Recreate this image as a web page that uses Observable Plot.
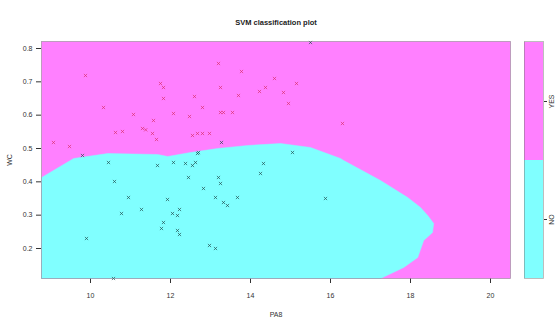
<!DOCTYPE html>
<html>
<head>
<meta charset="utf-8">
<script src="https://cdn.jsdelivr.net/npm/d3@7"></script>
<script src="https://cdn.jsdelivr.net/npm/@observablehq/plot@0.6"></script>
<style>
  html, body { margin: 0; padding: 0; background: #fff; }
  #wrap { position: relative; width: 558px; height: 323px; font-family: "Liberation Sans", Arial, sans-serif; }
  #wrap svg { position: absolute; top: 0; }
</style>
</head>
<body>
<div id="wrap"></div>
<script>
// ---- data ----
const title = "SVM classification plot";
const xLabel = "PA8";
const yLabel = "WC";
const classes = ["NO", "YES"];
const classColors = ["#80FFFF", "#FF80FF"];
const xTicks = [10, 12, 14, 16, 18, 20];
const yTicks = [0.2, 0.3, 0.4, 0.5, 0.6, 0.7, 0.8];

// decision boundary of the "NO" region (closed polygon)
const boundaryX = [8.78, 8.78, 9.58, 10.43, 11.68, 11.93, 12.5, 13.18, 13.93, 14.75, 15.5, 16.25, 16.33, 17.25, 17.93, 18.25, 18.43, 18.58, 18.55, 18.33, 18.18, 17.83, 17.25];
const boundaryY = [0.11, 0.413, 0.470, 0.485, 0.482, 0.476, 0.488, 0.500, 0.509, 0.515, 0.503, 0.470, 0.464, 0.404, 0.353, 0.323, 0.299, 0.275, 0.248, 0.224, 0.173, 0.143, 0.11];

// observations, class YES
const yesX = [9.075, 9.475, 9.875, 10.325, 10.625, 10.8, 11.075, 11.3, 11.38, 11.55, 11.65, 11.75, 11.825, 11.825, 12.075, 12.475, 12.55, 12.675, 12.8, 12.8, 12.975, 13.2, 13.25, 13.25, 13.325, 13.55, 13.7, 13.775, 14.225, 14.375, 14.6, 14.825, 15.15, 14.95, 16.3, 11.575, 12.6];
const yesY = [0.518, 0.506, 0.719, 0.623, 0.548, 0.551, 0.602, 0.560, 0.556, 0.545, 0.527, 0.695, 0.683, 0.650, 0.605, 0.596, 0.539, 0.545, 0.623, 0.545, 0.545, 0.755, 0.683, 0.608, 0.608, 0.608, 0.659, 0.731, 0.671, 0.683, 0.710, 0.668, 0.695, 0.635, 0.575, 0.584, 0.656];

// observations, class NO
const noX = [9.8, 12.7, 13.275, 15.05, 15.5, 10.45, 10.6, 10.95, 10.775, 11.275, 9.9, 10.575, 11.675, 12.075, 12.375, 12.55, 12.625, 12.675, 12.45, 11.925, 12.05, 12.175, 12.225, 11.825, 11.775, 12.175, 12.225, 12.825, 13.125, 13.2, 13.25, 13.325, 13.425, 13.675, 12.975, 13.125, 14.25, 14.325, 15.875];
const noY = [0.479, 0.488, 0.518, 0.488, 0.818, 0.458, 0.401, 0.353, 0.305, 0.317, 0.230, 0.110, 0.449, 0.458, 0.455, 0.449, 0.458, 0.485, 0.413, 0.347, 0.305, 0.299, 0.317, 0.278, 0.260, 0.254, 0.242, 0.380, 0.353, 0.413, 0.395, 0.338, 0.329, 0.353, 0.209, 0.200, 0.425, 0.455, 0.350];

// ---- tables ----
const boundary = boundaryX.map((x, i) => ({x, y: boundaryY[i]}));
const points = [
  ...yesX.map((x, i) => ({x, y: yesY[i], cls: "YES"})),
  ...noX.map((x, i) => ({x, y: noY[i], cls: "NO"}))
];

const font = {fontFamily: "Liberation Sans, Arial, sans-serif", fontSize: "7px", color: "#333", background: "transparent", overflow: "visible"};

const main = Plot.plot({
  width: 558, height: 323,
  marginLeft: 41, marginRight: 48, marginTop: 41, marginBottom: 45,
  style: font,
  x: {domain: [8.775, 20.5], ticks: xTicks, tickSize: 5, tickPadding: 10, tickFormat: d => String(d), label: xLabel, labelAnchor: "center", labelArrow: "none", labelOffset: 38},
  y: {domain: [0.11, 0.821], ticks: yTicks, tickSize: 5, tickPadding: 4, tickFormat: d3.format(".1f"), label: yLabel, labelAnchor: "center", labelArrow: "none", labelOffset: 34},
  marks: [
    Plot.frame({fill: classColors[1]}),
    Plot.line(boundary, {x: "x", y: "y", fill: classColors[0], stroke: classColors[0], strokeWidth: 0.5}),
    Plot.dot(points, {x: "x", y: "y", symbol: "times", r: 1.6, strokeWidth: 0.9,
      stroke: d => d.cls === "YES" ? "#d9306a" : "#1f4f4f", strokeOpacity: 0.75}),
    Plot.frame({stroke: "#777", strokeWidth: 0.8, strokeOpacity: 0.6}),
    Plot.text([title], {frameAnchor: "top", dy: -22, fontWeight: "bold", fontSize: 7.5, fill: "#222"})
  ]
});
main.style.left = "0px";

const legend = Plot.plot({
  width: 58, height: 323,
  marginLeft: 24, marginRight: 15, marginTop: 41, marginBottom: 45,
  style: font,
  x: {axis: null, domain: ["k"], padding: 0},
  y: {type: "band", domain: ["YES", "NO"], padding: 0, axis: "right", tickSize: 3, tickPadding: 7, tickRotate: -90, label: null},
  color: {domain: classes, range: classColors},
  marks: [
    Plot.cell(["YES", "NO"], {x: () => "k", y: d => d, fill: d => d, inset: 0}),
    Plot.frame({stroke: "#777", strokeWidth: 0.8, strokeOpacity: 0.6})
  ]
});
legend.style.left = "500px";

const wrap = document.getElementById("wrap");
wrap.appendChild(main);
wrap.appendChild(legend);
</script>
</body>
</html>
